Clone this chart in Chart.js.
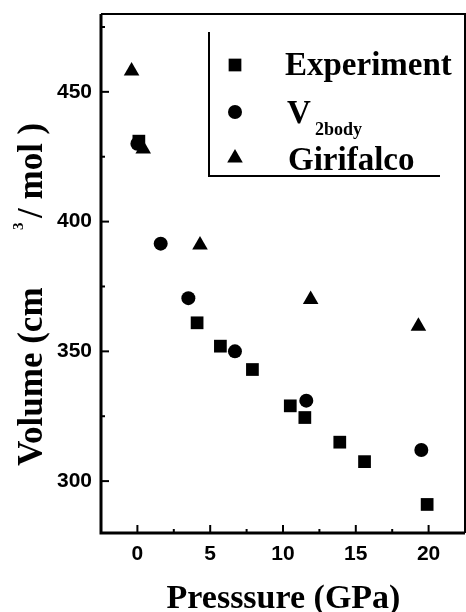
<!DOCTYPE html>
<html>
<head>
<meta charset="utf-8">
<script src="https://cdn.jsdelivr.net/npm/chart.js@4.4.1/dist/chart.umd.min.js"></script>
<style>
  html, body { margin: 0; padding: 0; background: #fff; }
  canvas { display: block; }
</style>
</head>
<body>
<canvas id="volumeChart" width="466" height="612"></canvas>
<script>
// values (pressure in GPa, molar volume in cm^3/mol)
const expPressure = [0.1, 4.1, 5.7, 7.9, 10.5, 11.5, 13.9, 15.6, 19.9];
const expVolume = [431, 361, 352, 343, 329, 324.5, 315, 307.5, 291];

const twoBodyPressure = [0.0, 1.6, 3.5, 6.7, 11.6, 19.5];
const twoBodyVolume = [430, 391.5, 370.5, 350, 331, 312];

const girifalcoPressure = [-0.4, 0.4, 4.3, 11.9, 19.3];
const girifalcoVolume = [458, 428, 391, 370, 359.7];

const xTicks = [0, 5, 10, 15, 20];
const yTicks = [300, 350, 400, 450];

const toPoints = (xs, ys) => xs.map((x, i) => ({ x: x, y: ys[i] }));

const serif = '"Liberation Serif", "Times New Roman", serif';

const decorations = {
  id: 'decorations',
  beforeDraw(chart) {
    const ctx = chart.ctx;
    ctx.save();
    ctx.fillStyle = '#fff';
    ctx.fillRect(0, 0, chart.width, chart.height);
    ctx.restore();
  },
  afterDraw(chart) {
    const { ctx, chartArea: a, scales: { x, y } } = chart;
    ctx.save();
    ctx.strokeStyle = '#000';
    ctx.fillStyle = '#000';

    // axes frame
    ctx.lineWidth = 3;
    ctx.beginPath();
    ctx.moveTo(a.left, a.top);
    ctx.lineTo(a.left, a.bottom);
    ctx.lineTo(a.right, a.bottom);
    ctx.stroke();
    ctx.lineWidth = 2;
    ctx.beginPath();
    ctx.moveTo(a.left, a.top);
    ctx.lineTo(a.right, a.top);
    ctx.lineTo(a.right, a.bottom);
    ctx.stroke();

    // inward ticks, minor between majors
    ctx.lineWidth = 2;
    for (let v = 0; v < x.max; v += 2.5) {
      const px = x.getPixelForValue(v);
      const len = v % 5 === 0 ? 8 : 4;
      ctx.beginPath();
      ctx.moveTo(px, a.bottom);
      ctx.lineTo(px, a.bottom - len);
      ctx.stroke();
    }
    for (let v = 300; v < y.max; v += 25) {
      const py = y.getPixelForValue(v);
      const len = v % 50 === 0 ? 8 : 4;
      ctx.beginPath();
      ctx.moveTo(a.left, py);
      ctx.lineTo(a.left + len, py);
      ctx.stroke();
    }

    // legend box (left + bottom rule only)
    ctx.lineWidth = 2;
    ctx.beginPath();
    ctx.moveTo(209, 32);
    ctx.lineTo(209, 176);
    ctx.lineTo(440, 176);
    ctx.stroke();

    const rows = [65, 112, 158];
    chart.data.datasets.forEach((ds, i) => {
      Chart.helpers.drawPoint(ctx, { pointStyle: ds.pointStyle, radius: ds.pointRadius, rotation: 0 }, 235, rows[i]);
    });

    ctx.textAlign = 'left';
    ctx.textBaseline = 'alphabetic';
    ctx.font = 'bold 33px ' + serif;
    ctx.fillText('Experiment', 285, 75);
    ctx.fillText('V', 287, 123);
    ctx.fillText('Girifalco', 288, 170);
    ctx.font = 'bold 18px ' + serif;
    ctx.fillText('2body', 315, 135);

    // x title
    ctx.textAlign = 'center';
    ctx.font = 'bold 34px ' + serif;
    ctx.fillText('Presssure (GPa)', 283.5, 608);

    // y title with superscript
    ctx.save();
    ctx.translate(42, 466);
    ctx.rotate(-Math.PI / 2);
    ctx.textAlign = 'left';
    ctx.font = 'bold 35px ' + serif;
    ctx.fillText('Volume (cm', 0, 0);
    ctx.fillText('/ mol )', 248, 0);
    ctx.font = 'bold 15px ' + serif;
    ctx.fillText('3', 236, -19);
    ctx.restore();

    ctx.restore();
  }
};

new Chart(document.getElementById('volumeChart'), {
  type: 'scatter',
  data: {
    datasets: [
      {
        label: 'Experiment',
        data: toPoints(expPressure, expVolume),
        pointStyle: 'rect',
        pointRadius: 9,
        backgroundColor: '#000',
        borderWidth: 0
      },
      {
        label: 'V2body',
        data: toPoints(twoBodyPressure, twoBodyVolume),
        pointStyle: 'circle',
        pointRadius: 7,
        backgroundColor: '#000',
        borderWidth: 0
      },
      {
        label: 'Girifalco',
        data: toPoints(girifalcoPressure, girifalcoVolume),
        pointStyle: 'triangle',
        pointRadius: 9,
        backgroundColor: '#000',
        borderWidth: 0
      }
    ]
  },
  options: {
    responsive: false,
    animation: false,
    layout: { autoPadding: false, padding: { top: 14, right: 1, left: 0, bottom: 0 } },
    plugins: {
      legend: { display: false },
      tooltip: { enabled: false }
    },
    scales: {
      x: {
        type: 'linear',
        position: 'bottom',
        min: -2.5,
        max: 22.5,
        grid: { display: false, drawTicks: false },
        border: { display: false },
        afterBuildTicks: axis => { axis.ticks = xTicks.map(v => ({ value: v })); },
        afterFit: axis => { axis.height = 79; axis.paddingLeft = 0; axis.paddingRight = 0; },
        ticks: {
          color: '#000',
          padding: 9,
          font: { family: '"Liberation Sans", Arial, sans-serif', weight: 'bold', size: 21 }
        }
      },
      y: {
        type: 'linear',
        min: 280,
        max: 480,
        grid: { display: false, drawTicks: false },
        border: { display: false },
        afterBuildTicks: axis => { axis.ticks = yTicks.map(v => ({ value: v })); },
        afterFit: axis => { axis.width = 101; axis.paddingTop = 0; axis.paddingBottom = 0; },
        ticks: {
          color: '#000',
          padding: 9,
          font: { family: '"Liberation Sans", Arial, sans-serif', weight: 'bold', size: 21 }
        }
      }
    }
  },
  plugins: [decorations]
});
</script>
</body>
</html>
